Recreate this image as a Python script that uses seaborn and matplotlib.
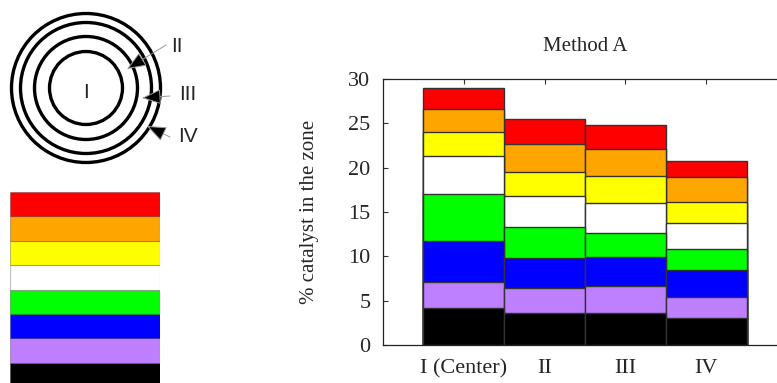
import matplotlib
matplotlib.use("Agg")
import matplotlib.pyplot as plt
from matplotlib.patches import Circle
import numpy as np
import pandas as pd
import seaborn as sns

# zones on the x axis
zones = ["I (Center)", "II", "III", "IV"]

# segment heights per colour layer, bottom to top
black = [4.14, 3.60, 3.57, 3.08]
purple = [2.96, 2.87, 3.05, 2.33]
blue = [4.67, 3.38, 3.27, 3.01]
green = [5.30, 3.45, 2.78, 2.44]
white = [4.21, 3.47, 3.31, 2.94]
yellow = [2.74, 2.78, 3.04, 2.37]
orange = [2.56, 3.15, 3.08, 2.74]
red = [2.37, 2.83, 2.67, 1.84]

layers = [black, purple, blue, green, white, yellow, orange, red]
layer_colors = ["#000000", "#bf80ff", "#0000ff", "#00ff00",
                "#ffffff", "#ffff00", "#ffa500", "#ff0000"]

# ring diagram labels
ring_labels = ["I", "II", "III", "IV"]
ring_radii = [36.5, 51.5, 65.5, 74.5]

sns.set_theme(style="ticks")
plt.rcParams["font.family"] = ["Liberation Serif", "DejaVu Serif"]

fig = plt.figure(figsize=(7.77, 3.83), dpi=100)

# ---- stacked bars ----
ax = fig.add_axes([383 / 777, 1 - 345 / 383, 404 / 777, 266 / 383])
cum = np.cumsum(np.array(layers), axis=0)
df = pd.DataFrame({"zone": np.tile(zones, len(layers)),
                   "layer": np.repeat(range(len(layers)), len(zones)),
                   "top": cum.ravel()})

for i in reversed(range(len(layers))):
    sub = df[df["layer"] == i]
    sns.barplot(data=sub, x="zone", y="top", order=zones, color=layer_colors[i],
                saturation=1, width=1, edgecolor="#333333", linewidth=1.0, ax=ax)

ax.set_xlim(-1, 4)
ax.set_ylim(0, 30)
ax.set_yticks(range(0, 31, 5))
ax.set_xlabel("")
ax.set_ylabel("% catalyst in the zone", fontsize=15, labelpad=21)
ax.set_title("Method A", fontsize=15, pad=20)
ax.tick_params(axis="both", direction="in", length=3.6, width=0.8,
               labelsize=16, top=True, right=False, color="#333333")
ax.tick_params(axis="x", pad=10)
ax.tick_params(axis="y", pad=9)
for s in ax.spines.values():
    s.set_linewidth(0.9)
    s.set_color("#222222")

# ---- ring diagram ----
dax = fig.add_axes([0, 0, 1, 1])
dax.set_xlim(0, 777)
dax.set_ylim(383, 0)
dax.axis("off")
cx, cy = 86, 88
for r in ring_radii:
    dax.add_patch(Circle((cx, cy), r, fill=False, lw=2.4, ec="black"))

sans = ["Liberation Sans", "DejaVu Sans"]
dax.text(cx, 93, ring_labels[0], ha="center", va="center", fontsize=15, family=sans)
label_pos = [(171, 46), (179, 94), (178, 137)]
arrow_from = [(166, 45), (170, 96), (170, 137)]
arrow_to = [(127, 69), (142, 98), (147, 126)]
for lab, lp, af, at in zip(ring_labels[1:], label_pos, arrow_from, arrow_to):
    dax.text(lp[0], lp[1], lab, ha="left", va="center", fontsize=15, family=sans)
    dax.annotate("", xy=at, xytext=af,
                 arrowprops=dict(arrowstyle="-|>,head_length=0.6,head_width=0.24",
                                 mutation_scale=20, ec="#999999", fc="black",
                                 lw=0.7, shrinkA=0, shrinkB=0))

# ---- colour key ----
kax = fig.add_axes([10 / 777, 1 - 387 / 383, 150 / 777, 195 / 383])
for i, c in enumerate(layer_colors):
    kax.barh(i, 1, height=1, left=0, color=c, edgecolor=(0, 0, 0, 0.25), linewidth=0.8)
kax.set_xlim(0, 1)
kax.set_ylim(-0.5, len(layer_colors) - 0.5)
kax.axis("off")

fig.savefig("out.png", dpi=100)
